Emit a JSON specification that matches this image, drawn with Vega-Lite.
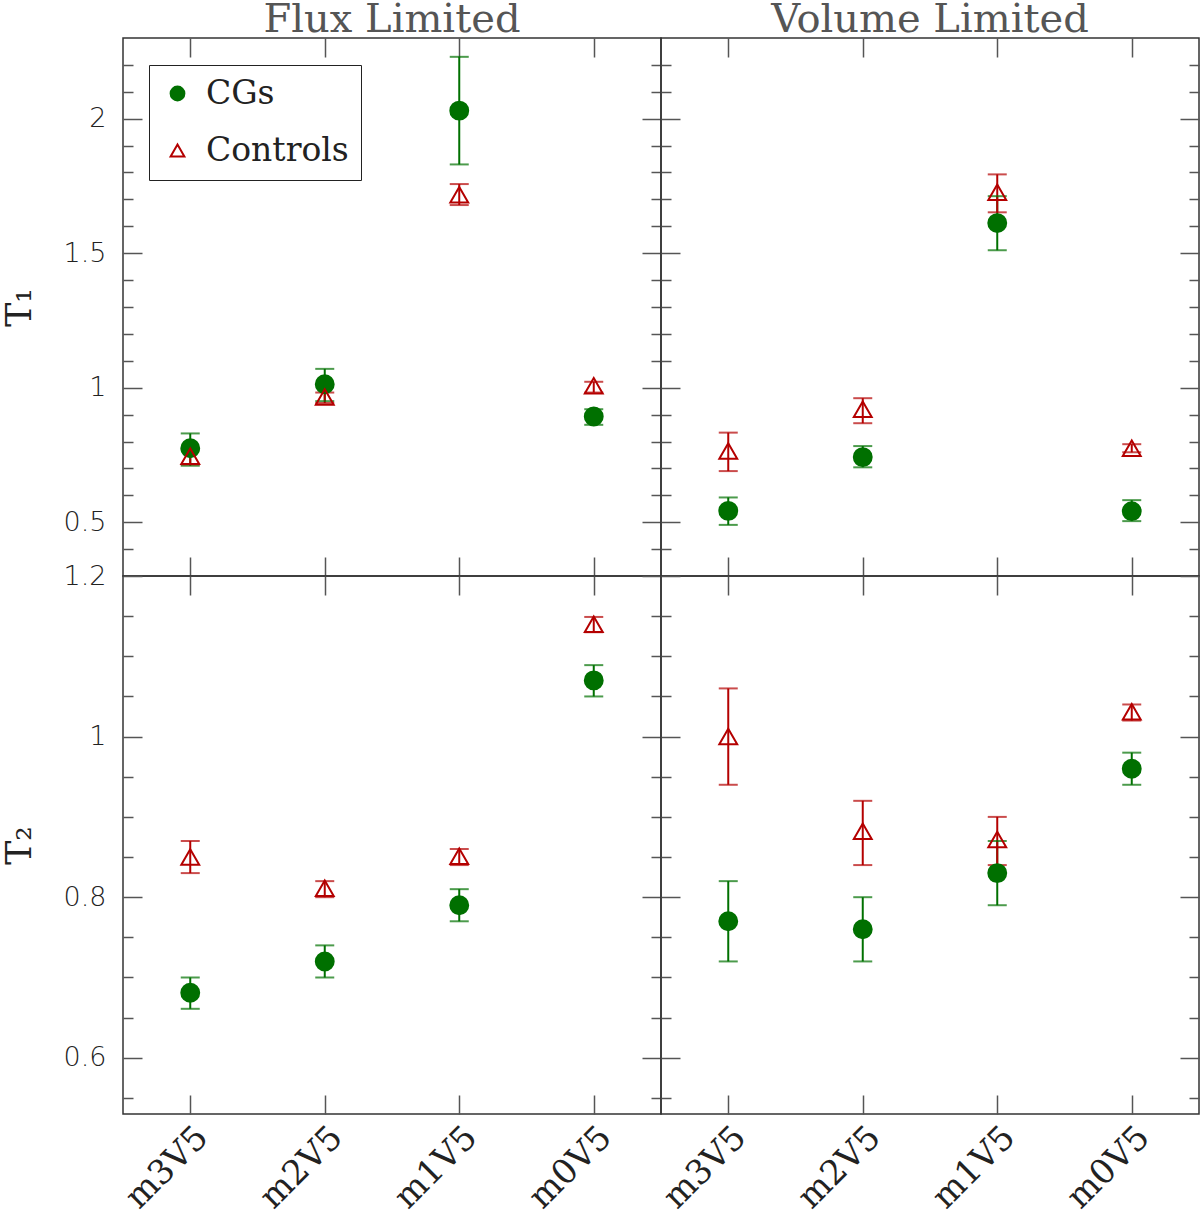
{
  "$schema": "https://vega.github.io/schema/vega-lite/v6.json",
  "background": "white",
  "padding": {"left": 0, "top": -1, "right": 1, "bottom": 2},
  "config": {
    "view": {"stroke": "#333", "strokeWidth": 1.5},
    "axis": {"domain": false, "grid": false, "tickColor": "#555", "tickWidth": 1.5, "labelOverlap": false, "labelColor": "#222"},
    "title": {"font": "DejaVu Serif", "fontSize": 40, "fontWeight": "normal", "color": "#555", "offset": -3}
  },
  "data": {
    "values": [
      {"s": "Flux", "t": "T1", "bin": "m3V5", "grp": "CGs", "v": 0.775, "lo": 0.71, "hi": 0.83},
      {"s": "Flux", "t": "T1", "bin": "m2V5", "grp": "CGs", "v": 1.013, "lo": 0.95, "hi": 1.07},
      {"s": "Flux", "t": "T1", "bin": "m1V5", "grp": "CGs", "v": 2.03, "lo": 1.83, "hi": 2.23},
      {"s": "Flux", "t": "T1", "bin": "m0V5", "grp": "CGs", "v": 0.893, "lo": 0.862, "hi": 0.92},
      {"s": "Flux", "t": "T1", "bin": "m3V5", "grp": "Controls", "v": 0.745, "lo": 0.715, "hi": 0.77},
      {"s": "Flux", "t": "T1", "bin": "m2V5", "grp": "Controls", "v": 0.965, "lo": 0.943, "hi": 0.982},
      {"s": "Flux", "t": "T1", "bin": "m1V5", "grp": "Controls", "v": 1.717, "lo": 1.679, "hi": 1.757},
      {"s": "Flux", "t": "T1", "bin": "m0V5", "grp": "Controls", "v": 1.007, "lo": 0.982, "hi": 1.022},
      {"s": "Volume", "t": "T1", "bin": "m3V5", "grp": "CGs", "v": 0.542, "lo": 0.49, "hi": 0.592},
      {"s": "Volume", "t": "T1", "bin": "m2V5", "grp": "CGs", "v": 0.742, "lo": 0.704, "hi": 0.783},
      {"s": "Volume", "t": "T1", "bin": "m1V5", "grp": "CGs", "v": 1.612, "lo": 1.511, "hi": 1.712},
      {"s": "Volume", "t": "T1", "bin": "m0V5", "grp": "CGs", "v": 0.541, "lo": 0.504, "hi": 0.582},
      {"s": "Volume", "t": "T1", "bin": "m3V5", "grp": "Controls", "v": 0.765, "lo": 0.69, "hi": 0.833},
      {"s": "Volume", "t": "T1", "bin": "m2V5", "grp": "Controls", "v": 0.92, "lo": 0.868, "hi": 0.961},
      {"s": "Volume", "t": "T1", "bin": "m1V5", "grp": "Controls", "v": 1.727, "lo": 1.652, "hi": 1.793},
      {"s": "Volume", "t": "T1", "bin": "m0V5", "grp": "Controls", "v": 0.775, "lo": 0.76, "hi": 0.79},
      {"s": "Flux", "t": "T2", "bin": "m3V5", "grp": "CGs", "v": 0.681, "lo": 0.661, "hi": 0.7},
      {"s": "Flux", "t": "T2", "bin": "m2V5", "grp": "CGs", "v": 0.72, "lo": 0.7, "hi": 0.74},
      {"s": "Flux", "t": "T2", "bin": "m1V5", "grp": "CGs", "v": 0.79, "lo": 0.77, "hi": 0.81},
      {"s": "Flux", "t": "T2", "bin": "m0V5", "grp": "CGs", "v": 1.07, "lo": 1.05, "hi": 1.089},
      {"s": "Flux", "t": "T2", "bin": "m3V5", "grp": "Controls", "v": 0.85, "lo": 0.83, "hi": 0.87},
      {"s": "Flux", "t": "T2", "bin": "m2V5", "grp": "Controls", "v": 0.811, "lo": 0.8, "hi": 0.82},
      {"s": "Flux", "t": "T2", "bin": "m1V5", "grp": "Controls", "v": 0.851, "lo": 0.84, "hi": 0.86},
      {"s": "Flux", "t": "T2", "bin": "m0V5", "grp": "Controls", "v": 1.14, "lo": 1.13, "hi": 1.149},
      {"s": "Volume", "t": "T2", "bin": "m3V5", "grp": "CGs", "v": 0.77, "lo": 0.72, "hi": 0.82},
      {"s": "Volume", "t": "T2", "bin": "m2V5", "grp": "CGs", "v": 0.76, "lo": 0.72, "hi": 0.8},
      {"s": "Volume", "t": "T2", "bin": "m1V5", "grp": "CGs", "v": 0.83, "lo": 0.79, "hi": 0.87},
      {"s": "Volume", "t": "T2", "bin": "m0V5", "grp": "CGs", "v": 0.96, "lo": 0.94, "hi": 0.98},
      {"s": "Volume", "t": "T2", "bin": "m3V5", "grp": "Controls", "v": 1.0, "lo": 0.94, "hi": 1.06},
      {"s": "Volume", "t": "T2", "bin": "m2V5", "grp": "Controls", "v": 0.882, "lo": 0.84, "hi": 0.92},
      {"s": "Volume", "t": "T2", "bin": "m1V5", "grp": "Controls", "v": 0.872, "lo": 0.84, "hi": 0.9},
      {"s": "Volume", "t": "T2", "bin": "m0V5", "grp": "Controls", "v": 1.031, "lo": 1.02, "hi": 1.04}
    ]
  },
  "columns": 2,
  "spacing": 0,
  "bounds": "flush",
  "concat": [
    {
      "width": 538, "height": 538,
      "title": "Flux Limited",
      "transform": [{"filter": "datum.s == 'Flux' && datum.t == 'T1'"}],
      "resolve": {"axis": {"x": "independent", "y": "independent"}},
      "layer": [
        {
          "mark": {"type": "rule", "strokeWidth": 2},
          "encoding": {
            "x": {"field": "bin", "type": "nominal", "scale": {"type": "point", "padding": 0.5, "domain": ["m3V5", "m2V5", "m1V5", "m0V5"]}, "axis": {"orient": "bottom", "title": null, "labels": false, "tickSize": -19}},
            "y": {"field": "lo", "type": "quantitative", "scale": {"domain": [0.3, 2.3]}, "axis": {"orient": "left", "title": "T₁", "titleFont": "DejaVu Serif", "titleFontSize": 36, "titleFontWeight": "normal", "titleColor": "#222", "titlePadding": 25, "values": [0.4, 0.5, 0.6, 0.7, 0.8, 0.9, 1, 1.1, 1.2, 1.3, 1.4, 1.5, 1.6, 1.7, 1.8, 1.9, 2, 2.1, 2.2], "labelExpr": "abs(datum.value*2 - round(datum.value*2)) < 0.001 ? format(datum.value, '~g') : ''", "tickSize": {"condition": {"test": "abs(datum.value*2 - round(datum.value*2)) < 0.001", "value": -19}, "value": -10}, "labelPadding": 36, "labelFont": "DejaVu Sans", "labelFontSize": 27, "labelFontWeight": 300}},
            "y2": {"field": "hi"},
            "color": {"field": "grp", "type": "nominal", "scale": {"domain": ["Controls", "CGs"], "range": ["#b40000", "#007000"]}, "legend": null}
          }
        },
        {
          "mark": {"type": "tick", "thickness": 2, "size": 19},
          "encoding": {
            "x": {"field": "bin", "type": "nominal", "scale": {"type": "point", "padding": 0.5, "domain": ["m3V5", "m2V5", "m1V5", "m0V5"]}, "axis": {"orient": "top", "title": null, "labels": false, "tickSize": -19}},
            "y": {"field": "lo", "type": "quantitative", "scale": {"domain": [0.3, 2.3]}, "axis": {"orient": "right", "title": null, "labels": false, "values": [0.4, 0.5, 0.6, 0.7, 0.8, 0.9, 1, 1.1, 1.2, 1.3, 1.4, 1.5, 1.6, 1.7, 1.8, 1.9, 2, 2.1, 2.2], "tickSize": {"condition": {"test": "abs(datum.value*2 - round(datum.value*2)) < 0.001", "value": -19}, "value": -10}}},
            "color": {"field": "grp", "type": "nominal", "scale": {"domain": ["Controls", "CGs"], "range": ["#b40000", "#007000"]}, "legend": null}
          }
        },
        {
          "mark": {"type": "tick", "thickness": 2, "size": 19},
          "encoding": {
            "x": {"field": "bin", "type": "nominal", "scale": {"type": "point", "padding": 0.5, "domain": ["m3V5", "m2V5", "m1V5", "m0V5"]}, "axis": null},
            "y": {"field": "hi", "type": "quantitative", "scale": {"domain": [0.3, 2.3]}, "axis": null},
            "color": {"field": "grp", "type": "nominal", "scale": {"domain": ["Controls", "CGs"], "range": ["#b40000", "#007000"]}, "legend": null}
          }
        },
        {
          "mark": {"type": "point", "size": 320, "strokeWidth": 2, "opacity": 1},
          "encoding": {
            "x": {"field": "bin", "type": "nominal", "scale": {"type": "point", "padding": 0.5, "domain": ["m3V5", "m2V5", "m1V5", "m0V5"]}, "axis": null},
            "y": {"field": "v", "type": "quantitative", "scale": {"domain": [0.3, 2.3]}, "axis": null},
            "shape": {"field": "grp", "type": "nominal", "scale": {"domain": ["CGs", "Controls"], "range": ["circle", "triangle-up"]}, "legend": {"title": null, "orient": "none", "legendX": 26, "legendY": 27, "padding": 12, "strokeColor": "#222", "fillColor": "white", "labelFont": "DejaVu Serif", "labelFontSize": 33, "labelColor": "#222", "symbolSize": 190, "symbolStrokeWidth": 2, "rowPadding": 23, "labelOffset": 12}},
            "stroke": {"field": "grp", "type": "nominal", "scale": {"domain": ["CGs", "Controls"], "range": ["#007000", "#b40000"]}, "legend": {"title": null, "orient": "none", "legendX": 26, "legendY": 27, "padding": 12, "strokeColor": "#222", "fillColor": "white", "labelFont": "DejaVu Serif", "labelFontSize": 33, "labelColor": "#222", "symbolSize": 190, "symbolStrokeWidth": 2, "rowPadding": 23, "labelOffset": 12}},
            "fill": {"field": "grp", "type": "nominal", "scale": {"domain": ["CGs", "Controls"], "range": ["#007000", "transparent"]}, "legend": {"title": null, "orient": "none", "legendX": 26, "legendY": 27, "padding": 12, "strokeColor": "#222", "fillColor": "white", "labelFont": "DejaVu Serif", "labelFontSize": 33, "labelColor": "#222", "symbolSize": 190, "symbolStrokeWidth": 2, "rowPadding": 23, "labelOffset": 12}}
          }
        }
      ]
    },
    {
      "width": 538, "height": 538,
      "title": "Volume Limited",
      "transform": [{"filter": "datum.s == 'Volume' && datum.t == 'T1'"}],
      "resolve": {"axis": {"x": "independent", "y": "independent"}},
      "layer": [
        {
          "mark": {"type": "rule", "strokeWidth": 2},
          "encoding": {
            "x": {"field": "bin", "type": "nominal", "scale": {"type": "point", "padding": 0.5, "domain": ["m3V5", "m2V5", "m1V5", "m0V5"]}, "axis": {"orient": "bottom", "title": null, "labels": false, "tickSize": -19}},
            "y": {"field": "lo", "type": "quantitative", "scale": {"domain": [0.3, 2.3]}, "axis": {"orient": "left", "title": null, "labels": false, "values": [0.4, 0.5, 0.6, 0.7, 0.8, 0.9, 1, 1.1, 1.2, 1.3, 1.4, 1.5, 1.6, 1.7, 1.8, 1.9, 2, 2.1, 2.2], "tickSize": {"condition": {"test": "abs(datum.value*2 - round(datum.value*2)) < 0.001", "value": -19}, "value": -10}}},
            "y2": {"field": "hi"},
            "color": {"field": "grp", "type": "nominal", "scale": {"domain": ["Controls", "CGs"], "range": ["#b40000", "#007000"]}, "legend": null}
          }
        },
        {
          "mark": {"type": "tick", "thickness": 2, "size": 19},
          "encoding": {
            "x": {"field": "bin", "type": "nominal", "scale": {"type": "point", "padding": 0.5, "domain": ["m3V5", "m2V5", "m1V5", "m0V5"]}, "axis": {"orient": "top", "title": null, "labels": false, "tickSize": -19}},
            "y": {"field": "lo", "type": "quantitative", "scale": {"domain": [0.3, 2.3]}, "axis": {"orient": "right", "title": null, "labels": false, "values": [0.4, 0.5, 0.6, 0.7, 0.8, 0.9, 1, 1.1, 1.2, 1.3, 1.4, 1.5, 1.6, 1.7, 1.8, 1.9, 2, 2.1, 2.2], "tickSize": {"condition": {"test": "abs(datum.value*2 - round(datum.value*2)) < 0.001", "value": -19}, "value": -10}}},
            "color": {"field": "grp", "type": "nominal", "scale": {"domain": ["Controls", "CGs"], "range": ["#b40000", "#007000"]}, "legend": null}
          }
        },
        {
          "mark": {"type": "tick", "thickness": 2, "size": 19},
          "encoding": {
            "x": {"field": "bin", "type": "nominal", "scale": {"type": "point", "padding": 0.5, "domain": ["m3V5", "m2V5", "m1V5", "m0V5"]}, "axis": null},
            "y": {"field": "hi", "type": "quantitative", "scale": {"domain": [0.3, 2.3]}, "axis": null},
            "color": {"field": "grp", "type": "nominal", "scale": {"domain": ["Controls", "CGs"], "range": ["#b40000", "#007000"]}, "legend": null}
          }
        },
        {
          "mark": {"type": "point", "size": 320, "strokeWidth": 2, "opacity": 1},
          "encoding": {
            "x": {"field": "bin", "type": "nominal", "scale": {"type": "point", "padding": 0.5, "domain": ["m3V5", "m2V5", "m1V5", "m0V5"]}, "axis": null},
            "y": {"field": "v", "type": "quantitative", "scale": {"domain": [0.3, 2.3]}, "axis": null},
            "shape": {"field": "grp", "type": "nominal", "scale": {"domain": ["CGs", "Controls"], "range": ["circle", "triangle-up"]}},
            "stroke": {"field": "grp", "type": "nominal", "scale": {"domain": ["CGs", "Controls"], "range": ["#007000", "#b40000"]}},
            "fill": {"field": "grp", "type": "nominal", "scale": {"domain": ["CGs", "Controls"], "range": ["#007000", "transparent"]}}
          }
        }
      ]
    },
    {
      "width": 538, "height": 538,
      "transform": [{"filter": "datum.s == 'Flux' && datum.t == 'T2'"}],
      "resolve": {"axis": {"x": "independent", "y": "independent"}},
      "layer": [
        {
          "mark": {"type": "rule", "strokeWidth": 2},
          "encoding": {
            "x": {"field": "bin", "type": "nominal", "scale": {"type": "point", "padding": 0.5, "domain": ["m3V5", "m2V5", "m1V5", "m0V5"]}, "axis": {"orient": "bottom", "title": null, "tickSize": -19, "labelAngle": -45, "labelAlign": "right", "labelBaseline": "middle", "labelPadding": 37, "labelOffset": 12, "labelFont": "DejaVu Serif", "labelFontSize": 34}},
            "y": {"field": "lo", "type": "quantitative", "scale": {"domain": [0.53, 1.2]}, "axis": {"orient": "left", "title": "T₂", "titleFont": "DejaVu Serif", "titleFontSize": 36, "titleFontWeight": "normal", "titleColor": "#222", "titlePadding": 25, "values": [0.55, 0.6, 0.65, 0.7, 0.75, 0.8, 0.85, 0.9, 0.95, 1, 1.05, 1.1, 1.15, 1.2], "labelExpr": "abs(datum.value*5 - round(datum.value*5)) < 0.001 ? format(datum.value, '~g') : ''", "tickSize": {"condition": {"test": "abs(datum.value*5 - round(datum.value*5)) < 0.001", "value": -19}, "value": -10}, "labelPadding": 36, "labelFont": "DejaVu Sans", "labelFontSize": 27, "labelFontWeight": 300}},
            "y2": {"field": "hi"},
            "color": {"field": "grp", "type": "nominal", "scale": {"domain": ["Controls", "CGs"], "range": ["#b40000", "#007000"]}, "legend": null}
          }
        },
        {
          "mark": {"type": "tick", "thickness": 2, "size": 19},
          "encoding": {
            "x": {"field": "bin", "type": "nominal", "scale": {"type": "point", "padding": 0.5, "domain": ["m3V5", "m2V5", "m1V5", "m0V5"]}, "axis": {"orient": "top", "title": null, "labels": false, "tickSize": -19}},
            "y": {"field": "lo", "type": "quantitative", "scale": {"domain": [0.53, 1.2]}, "axis": {"orient": "right", "title": null, "labels": false, "values": [0.55, 0.6, 0.65, 0.7, 0.75, 0.8, 0.85, 0.9, 0.95, 1, 1.05, 1.1, 1.15, 1.2], "tickSize": {"condition": {"test": "abs(datum.value*5 - round(datum.value*5)) < 0.001", "value": -19}, "value": -10}}},
            "color": {"field": "grp", "type": "nominal", "scale": {"domain": ["Controls", "CGs"], "range": ["#b40000", "#007000"]}, "legend": null}
          }
        },
        {
          "mark": {"type": "tick", "thickness": 2, "size": 19},
          "encoding": {
            "x": {"field": "bin", "type": "nominal", "scale": {"type": "point", "padding": 0.5, "domain": ["m3V5", "m2V5", "m1V5", "m0V5"]}, "axis": null},
            "y": {"field": "hi", "type": "quantitative", "scale": {"domain": [0.53, 1.2]}, "axis": null},
            "color": {"field": "grp", "type": "nominal", "scale": {"domain": ["Controls", "CGs"], "range": ["#b40000", "#007000"]}, "legend": null}
          }
        },
        {
          "mark": {"type": "point", "size": 320, "strokeWidth": 2, "opacity": 1},
          "encoding": {
            "x": {"field": "bin", "type": "nominal", "scale": {"type": "point", "padding": 0.5, "domain": ["m3V5", "m2V5", "m1V5", "m0V5"]}, "axis": null},
            "y": {"field": "v", "type": "quantitative", "scale": {"domain": [0.53, 1.2]}, "axis": null},
            "shape": {"field": "grp", "type": "nominal", "scale": {"domain": ["CGs", "Controls"], "range": ["circle", "triangle-up"]}},
            "stroke": {"field": "grp", "type": "nominal", "scale": {"domain": ["CGs", "Controls"], "range": ["#007000", "#b40000"]}},
            "fill": {"field": "grp", "type": "nominal", "scale": {"domain": ["CGs", "Controls"], "range": ["#007000", "transparent"]}}
          }
        }
      ]
    },
    {
      "width": 538, "height": 538,
      "transform": [{"filter": "datum.s == 'Volume' && datum.t == 'T2'"}],
      "resolve": {"axis": {"x": "independent", "y": "independent"}},
      "layer": [
        {
          "mark": {"type": "rule", "strokeWidth": 2},
          "encoding": {
            "x": {"field": "bin", "type": "nominal", "scale": {"type": "point", "padding": 0.5, "domain": ["m3V5", "m2V5", "m1V5", "m0V5"]}, "axis": {"orient": "bottom", "title": null, "tickSize": -19, "labelAngle": -45, "labelAlign": "right", "labelBaseline": "middle", "labelPadding": 37, "labelOffset": 12, "labelFont": "DejaVu Serif", "labelFontSize": 34}},
            "y": {"field": "lo", "type": "quantitative", "scale": {"domain": [0.53, 1.2]}, "axis": {"orient": "left", "title": null, "labels": false, "values": [0.55, 0.6, 0.65, 0.7, 0.75, 0.8, 0.85, 0.9, 0.95, 1, 1.05, 1.1, 1.15, 1.2], "tickSize": {"condition": {"test": "abs(datum.value*5 - round(datum.value*5)) < 0.001", "value": -19}, "value": -10}}},
            "y2": {"field": "hi"},
            "color": {"field": "grp", "type": "nominal", "scale": {"domain": ["Controls", "CGs"], "range": ["#b40000", "#007000"]}, "legend": null}
          }
        },
        {
          "mark": {"type": "tick", "thickness": 2, "size": 19},
          "encoding": {
            "x": {"field": "bin", "type": "nominal", "scale": {"type": "point", "padding": 0.5, "domain": ["m3V5", "m2V5", "m1V5", "m0V5"]}, "axis": {"orient": "top", "title": null, "labels": false, "tickSize": -19}},
            "y": {"field": "lo", "type": "quantitative", "scale": {"domain": [0.53, 1.2]}, "axis": {"orient": "right", "title": null, "labels": false, "values": [0.55, 0.6, 0.65, 0.7, 0.75, 0.8, 0.85, 0.9, 0.95, 1, 1.05, 1.1, 1.15, 1.2], "tickSize": {"condition": {"test": "abs(datum.value*5 - round(datum.value*5)) < 0.001", "value": -19}, "value": -10}}},
            "color": {"field": "grp", "type": "nominal", "scale": {"domain": ["Controls", "CGs"], "range": ["#b40000", "#007000"]}, "legend": null}
          }
        },
        {
          "mark": {"type": "tick", "thickness": 2, "size": 19},
          "encoding": {
            "x": {"field": "bin", "type": "nominal", "scale": {"type": "point", "padding": 0.5, "domain": ["m3V5", "m2V5", "m1V5", "m0V5"]}, "axis": null},
            "y": {"field": "hi", "type": "quantitative", "scale": {"domain": [0.53, 1.2]}, "axis": null},
            "color": {"field": "grp", "type": "nominal", "scale": {"domain": ["Controls", "CGs"], "range": ["#b40000", "#007000"]}, "legend": null}
          }
        },
        {
          "mark": {"type": "point", "size": 320, "strokeWidth": 2, "opacity": 1},
          "encoding": {
            "x": {"field": "bin", "type": "nominal", "scale": {"type": "point", "padding": 0.5, "domain": ["m3V5", "m2V5", "m1V5", "m0V5"]}, "axis": null},
            "y": {"field": "v", "type": "quantitative", "scale": {"domain": [0.53, 1.2]}, "axis": null},
            "shape": {"field": "grp", "type": "nominal", "scale": {"domain": ["CGs", "Controls"], "range": ["circle", "triangle-up"]}},
            "stroke": {"field": "grp", "type": "nominal", "scale": {"domain": ["CGs", "Controls"], "range": ["#007000", "#b40000"]}},
            "fill": {"field": "grp", "type": "nominal", "scale": {"domain": ["CGs", "Controls"], "range": ["#007000", "transparent"]}}
          }
        }
      ]
    }
  ]
}
